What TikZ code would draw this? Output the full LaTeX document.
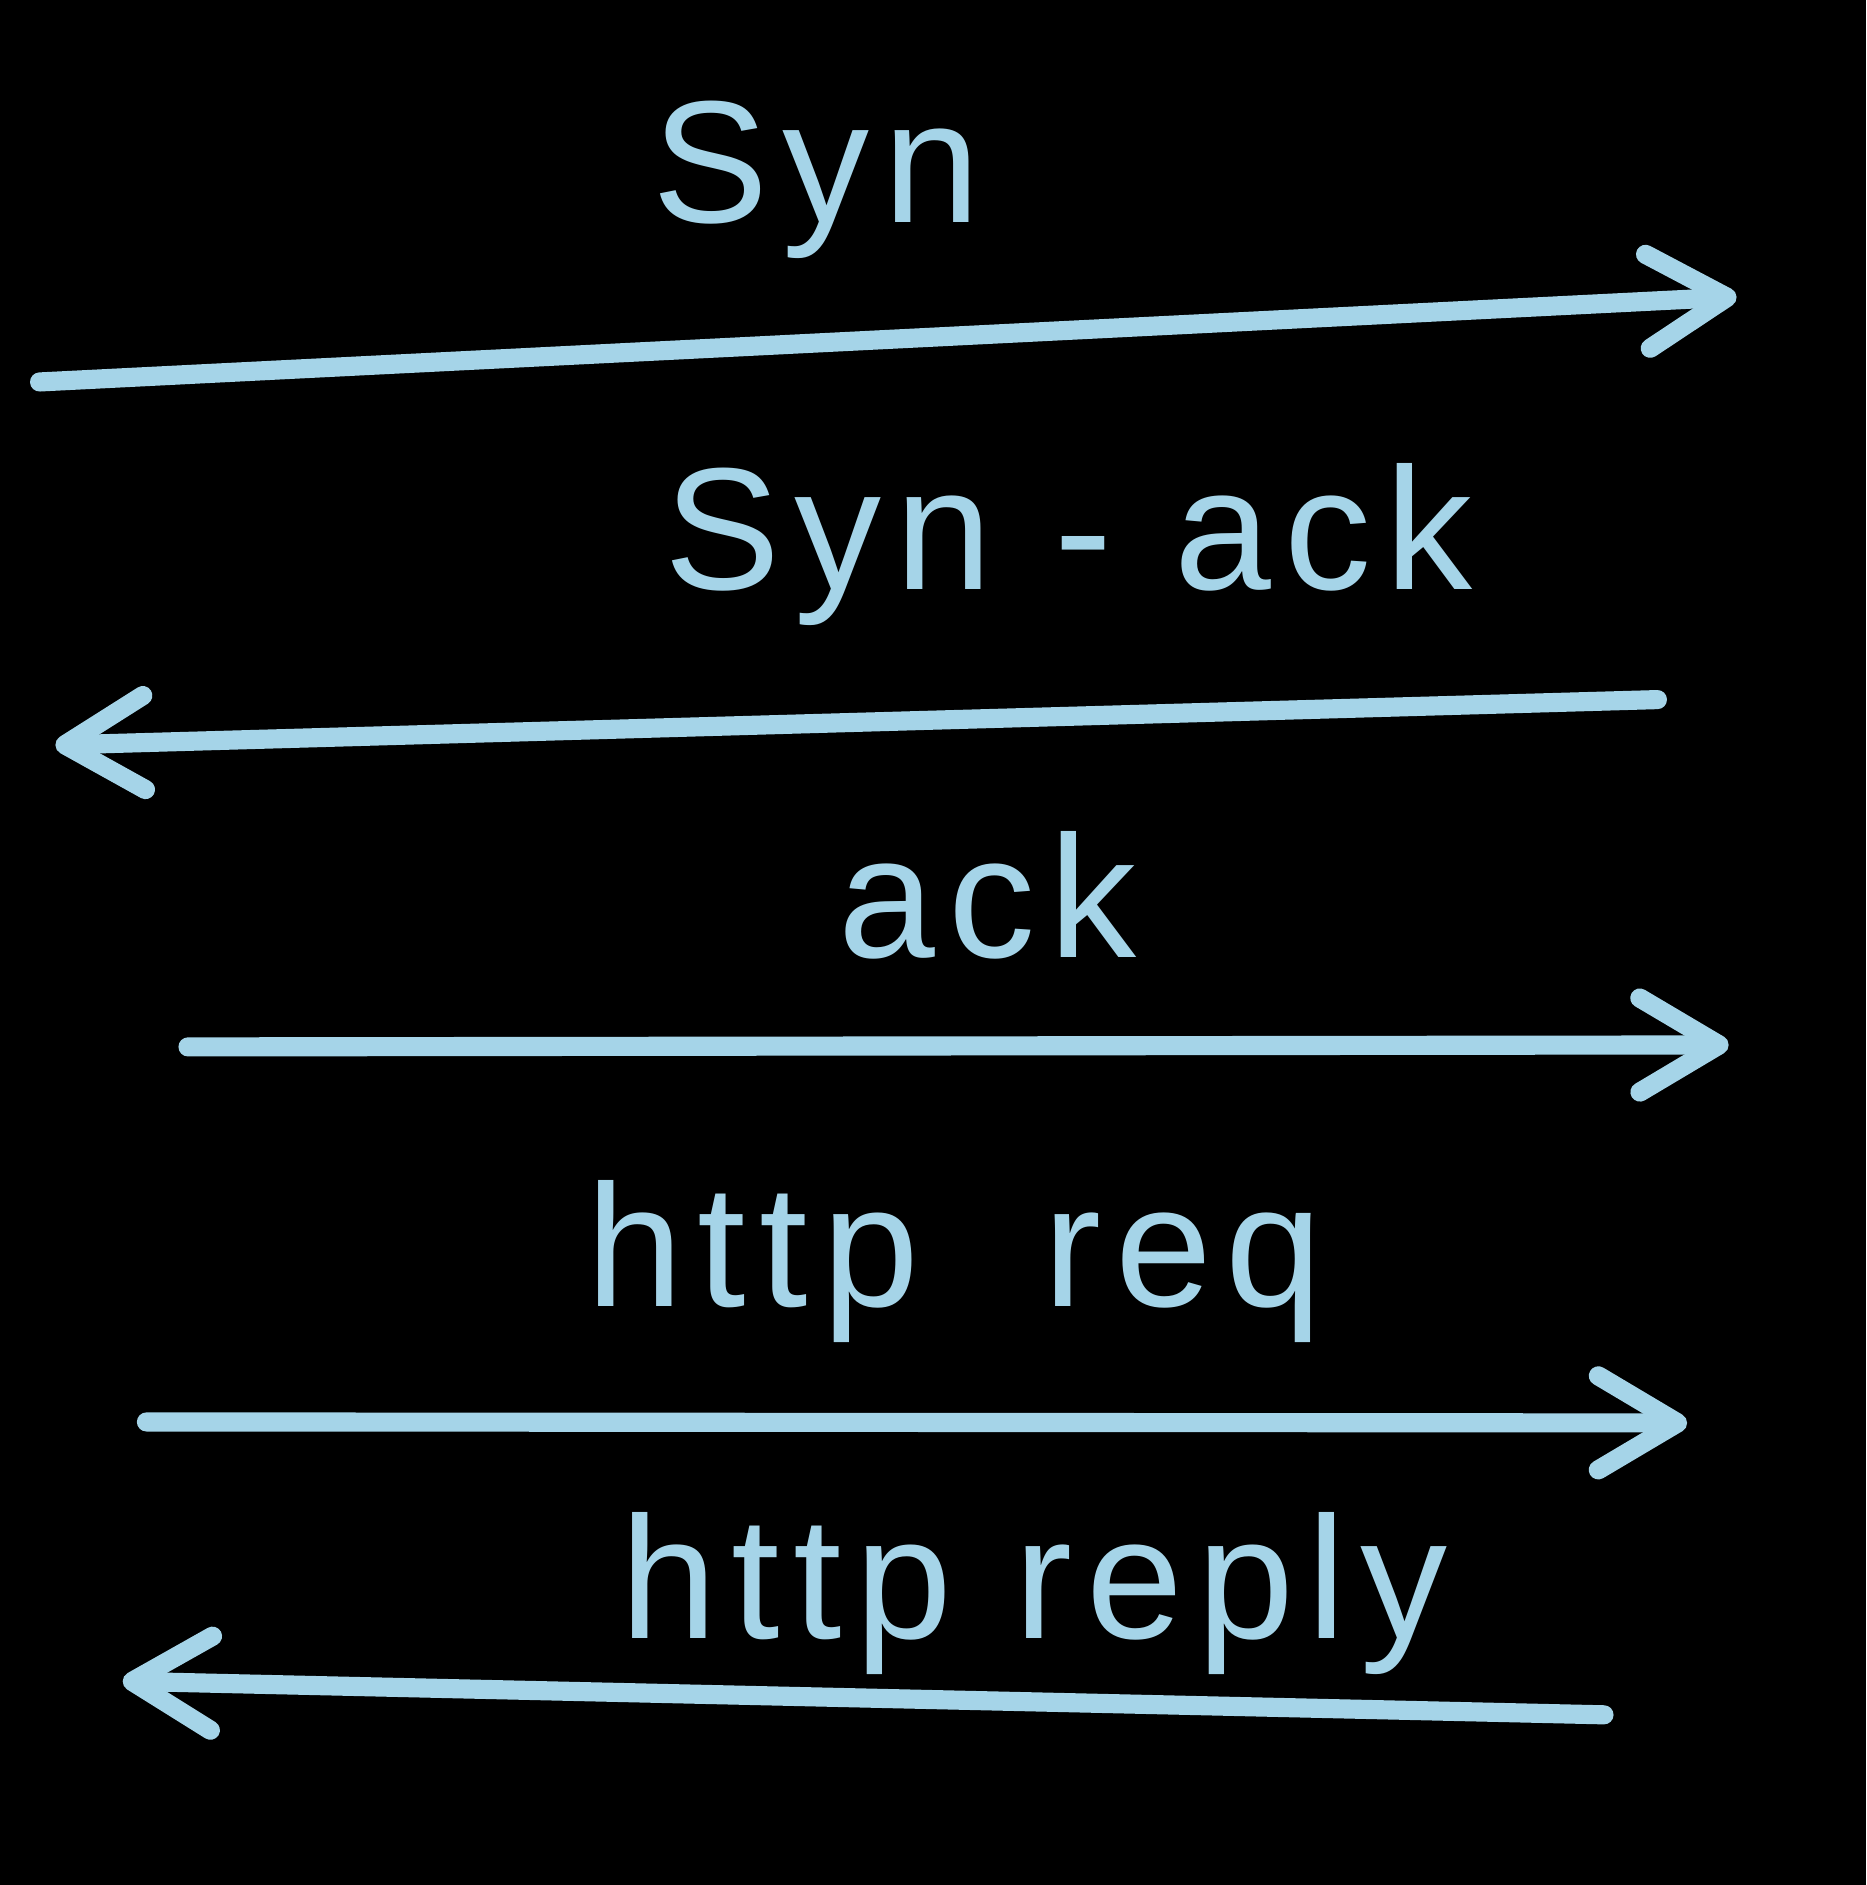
\documentclass[tikz,border=0pt]{standalone}
\usepackage{fontspec}
\setmainfont[LetterSpace=8]{Liberation Sans}
\usetikzlibrary{arrows.meta}

\definecolor{chalk}{RGB}{165,212,232}

\begin{document}
\begin{tikzpicture}[
    x=0.01cm, y=-0.01cm,
    msg/.style={draw=chalk, line width=5.5pt, line cap=round, line join=round,
        -{Straight Barb[length=0.8cm, width=0.95cm, line width=5.5pt, round]}},
    lbl/.style={text=chalk, font=\fontsize{50}{54}\selectfont, inner sep=0pt}
]
    \fill[black] (-10,-10) rectangle (1876,1895);
    \useasboundingbox (0,0) rectangle (1866,1885);

    % end points of the messages
    \coordinate (synA) at (30,376);     \coordinate (synB) at (1745,290);
    \coordinate (sackA) at (1665,697);  \coordinate (sackB) at (46,743);
    \coordinate (ackA) at (180,1048);   \coordinate (ackB) at (1737,1046);
    \coordinate (reqA) at (138,1427);   \coordinate (reqB) at (1695,1428);
    \coordinate (repA) at (1611,1723);  \coordinate (repB) at (114,1689);

    \node[lbl] (syn) at (815,172) {Syn};
    \node[lbl] (sack) at (1070,540) {Syn - ack};
    \node[lbl] (ack) at (988,895) {ack};
    \node[lbl] (req) at (955,1265) {http \ req};
    \node[lbl] (rep) at (1035,1600) {http reply};

    \draw[msg] (synA) -- (synB);
    \draw[msg] (sackA) -- (sackB);
    \draw[msg] (ackA) -- (ackB);
    \draw[msg] (reqA) -- (reqB);
    \draw[msg] (repA) -- (repB);

\end{tikzpicture}
\end{document}
